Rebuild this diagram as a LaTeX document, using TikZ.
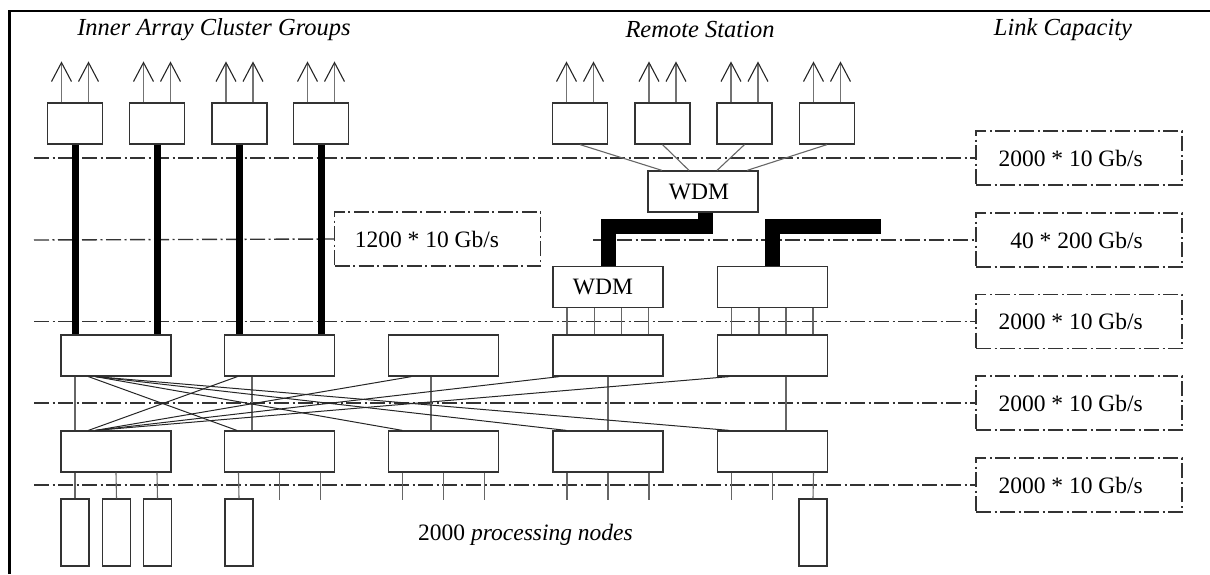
\documentclass[tikz,border=0pt]{standalone}
\usepackage{fontspec}
\setmainfont{Liberation Serif}
\usetikzlibrary{arrows.meta,calc}
\begin{document}
\begin{tikzpicture}[x=1pt,y=-1pt,
  box/.style={draw=black!80, line width=1.2pt, fill=white, inner sep=0pt, minimum width=55pt, minimum height=41pt, font=\fontsize{23.5}{25}\selectfont},
  wbox/.style={box, minimum width=110pt},
  pnode/.style={box, minimum width=28pt, minimum height=67pt},
  capbox/.style={draw=black!80, line width=1.3pt, dash pattern=on 15pt off 3.5pt on 2pt off 3.5pt, minimum width=206pt, minimum height=54pt, inner sep=0pt},
  dd/.style={draw=black!80, line width=1.4pt, dash pattern=on 15pt off 3.5pt on 2pt off 3.5pt},
  thinc/.style={draw=black!60, line width=1.1pt},
  mesh/.style={draw=black!85, line width=1pt},
  thickc/.style={draw=black, line width=7pt},
  fat/.style={draw=black, line width=15pt},
  uparrow/.style={draw=black!55, line width=1.1pt, -{Straight Barb[length=19pt,width=20pt,color=black!85,line width=1.1pt]}},
  txt/.style={font=\fontsize{23.5}{25}\selectfont, inner sep=0pt},
  ttl/.style={font=\fontsize{24.5}{26}\selectfont\itshape, inner sep=0pt}
]
\useasboundingbox (0,0) rectangle (1210,574);
% frame
\draw[line width=2.5pt] (9.5,574) -- (9.5,11) -- (1210,11);

% titles
\node[ttl] (t1) at (214,30) {Inner Array Cluster Groups};
\node[ttl] (t2) at (700,30) {Remote Station};
\node[ttl] (t3) at (1063,30) {Link Capacity};

% capacity boxes
\node[capbox] (c1) at (1079,158) {};
\node[capbox] (c2) at (1079,240) {};
\node[capbox] (c3) at (1079,321.5) {};
\node[capbox] (c4) at (1079,403) {};
\node[capbox] (c5) at (1079,485) {};
\node[txt, anchor=east] (ct1) at (1143,158) {2000 * 10 Gb/s};
\node[txt, anchor=east] (ct2) at (1143,240) {40 * 200 Gb/s};
\node[txt, anchor=east] (ct3) at (1143,321.5) {2000 * 10 Gb/s};
\node[txt, anchor=east] (ct4) at (1143,403) {2000 * 10 Gb/s};
\node[txt, anchor=east] (ct5) at (1143,485) {2000 * 10 Gb/s};
\node[capbox] (k) at (437.5,239) {};
\node[txt] (kt) at (427,239) {1200 * 10 Gb/s};

% dash-dot level lines
\coordinate (l1) at (34,158);
\coordinate (l2) at (34,240);
\coordinate (l2b) at (593,240);
\coordinate (l3) at (34,321.5);
\coordinate (l4) at (34,403);
\coordinate (l5) at (34,485);
\draw[dd] (l1) -- (c1.west);
\draw[dd] (l2) -- (k.west);
\draw[dd] (l2b) -- (c2.west);
\draw[dd] (l3) -- (c3.west);
\draw[dd] (l4) -- (c4.west);
\draw[dd] (l5) -- (c5.west);

% top boxes
\node[box] (i1) at (75,123.5) {};
\node[box] (i2) at (157,123.5) {};
\node[box] (i3) at (239.5,123.5) {};
\node[box] (i4) at (321,123.5) {};
\node[box] (r1) at (580,123.5) {};
\node[box] (r2) at (662.5,123.5) {};
\node[box] (r3) at (744.5,123.5) {};
\node[box] (r4) at (827,123.5) {};

% WDM and link boxes
\node[wbox] (w1) at (703,191.5) {\hspace*{-8pt}WDM};
\node[wbox] (w2) at (608,287) {\hspace*{-10pt}WDM};
\node[wbox] (w3) at (772.5,287) {};

% row A and row B
\node[wbox] (a1) at (116,355.5) {};
\node[wbox] (a2) at (279.5,355.5) {};
\node[wbox] (a3) at (443.5,355.5) {};
\node[wbox] (a4) at (608,355.5) {};
\node[wbox] (a5) at (772.5,355.5) {};
\node[wbox] (b1) at (116,451.5) {};
\node[wbox] (b2) at (279.5,451.5) {};
\node[wbox] (b3) at (443.5,451.5) {};
\node[wbox] (b4) at (608,451.5) {};
\node[wbox] (b5) at (772.5,451.5) {};

% processing nodes
\node[pnode] (p1) at (75,532.5) {};
\node[pnode] (p2) at (116.5,532.5) {};
\node[pnode] (p3) at (157.5,532.5) {};
\node[pnode] (p4) at (239,532.5) {};
\node[pnode] (p5) at (813,532.5) {};
\node[txt] (pt) at (525.5,535) {2000 \textit{processing nodes}};

% up arrows
\foreach \b in {i1,i2,i3,i4,r1,r2,r3,r4}{
  \draw[uparrow] ($(\b.north)+(-13.5,0)$) -- ++(0,-41);
  \draw[uparrow] ($(\b.north)+(13.5,0)$) -- ++(0,-41);
}

% remote boxes to WDM
\draw[thinc] (r1.south) -- ($(w1.north)+(-41,0)$);
\draw[thinc] (r2.south) -- ($(w1.north)+(-14,0)$);
\draw[thinc] (r3.south) -- ($(w1.north)+(14,0)$);
\draw[thinc] (r4.south) -- ($(w1.north)+(44,0)$);

% thick inner links
\draw[thickc] (i1.south) -- (i1.south |- a1.north);
\draw[thickc] (i2.south) -- (i2.south |- a1.north);
\draw[thickc] (i3.south) -- (i3.south |- a2.north);
\draw[thickc] (i4.south) -- (i4.south |- a2.north);

% fat WDM links
\coordinate (fe) at (881,226);
\draw[fat] ($(w1.south)+(2,0)$) -- ++(0,14) -| (w2.north);
\draw[fat] (w3.north) |- (fe);

% WDM / link box to row A
\foreach \dx in {-41,-13.5,13.5,40.5}{
  \draw[thinc] ($(w2.south)+(\dx,0)$) -- ($(a4.north)+(\dx,0)$);
  \draw[thinc] ($(w3.south)+(\dx,0)$) -- ($(a5.north)+(\dx,0)$);
}

% row A to row B verticals
\draw[thinc] ($(a1.south)+(-41,0)$) -- ($(b1.north)+(-41,0)$);
\draw[thinc] ($(a2.south)+(-27.5,0)$) -- ($(b2.north)+(-27.5,0)$);
\draw[thinc] ($(a3.south)+(-12.5,0)$) -- ($(b3.north)+(-12.5,0)$);
\draw[thinc] (a4.south) -- (b4.north);
\draw[thinc] ($(a5.south)+(13.5,0)$) -- ($(b5.north)+(13.5,0)$);

% mesh
\draw[mesh] ($(a1.south west)+(28,0)$) -- ($(b2.north west)+(13,0)$);
\draw[mesh] ($(a1.south west)+(35,0)$) -- ($(b3.north west)+(14.5,0)$);
\draw[mesh] ($(a1.south west)+(35,0)$) -- ($(b4.north west)+(14,0)$);
\draw[mesh] ($(a1.south west)+(35,0)$) -- ($(b5.north west)+(12.5,0)$);
\draw[mesh] ($(b1.north west)+(28,0)$) -- ($(a2.south west)+(13.5,0)$);
\draw[mesh] ($(b1.north west)+(35,0)$) -- ($(a3.south west)+(23.5,0)$);
\draw[mesh] ($(b1.north west)+(35,0)$) -- ($(a4.south west)+(7,0)$);
\draw[mesh] ($(b1.north west)+(35,0)$) -- ($(a5.south west)+(12.5,0)$);

% stubs below row B
\draw[thinc] ($(b1.south)+(-41,0)$) -- (p1.north);
\draw[thinc] (b1.south) -- (p2.north);
\draw[thinc] ($(b1.south)+(41,0)$) -- (p3.north);
\draw[thinc] ($(b2.south)+(-41,0)$) -- (p4.north);
\draw[thinc] (b2.south) -- ++(0,27);
\draw[thinc] ($(b2.south)+(41,0)$) -- ++(0,27);
\foreach \b in {b3,b4}{
  \foreach \dx in {-41,0,41}{
    \draw[thinc] ($(\b.south)+(\dx,0)$) -- ++(0,27);
  }
}
\draw[thinc] ($(b5.south)+(-41,0)$) -- ++(0,27);
\draw[thinc] (b5.south) -- ++(0,27);
\draw[thinc] ($(b5.south)+(41,0)$) -- (p5.north);
\end{tikzpicture}
\end{document}
